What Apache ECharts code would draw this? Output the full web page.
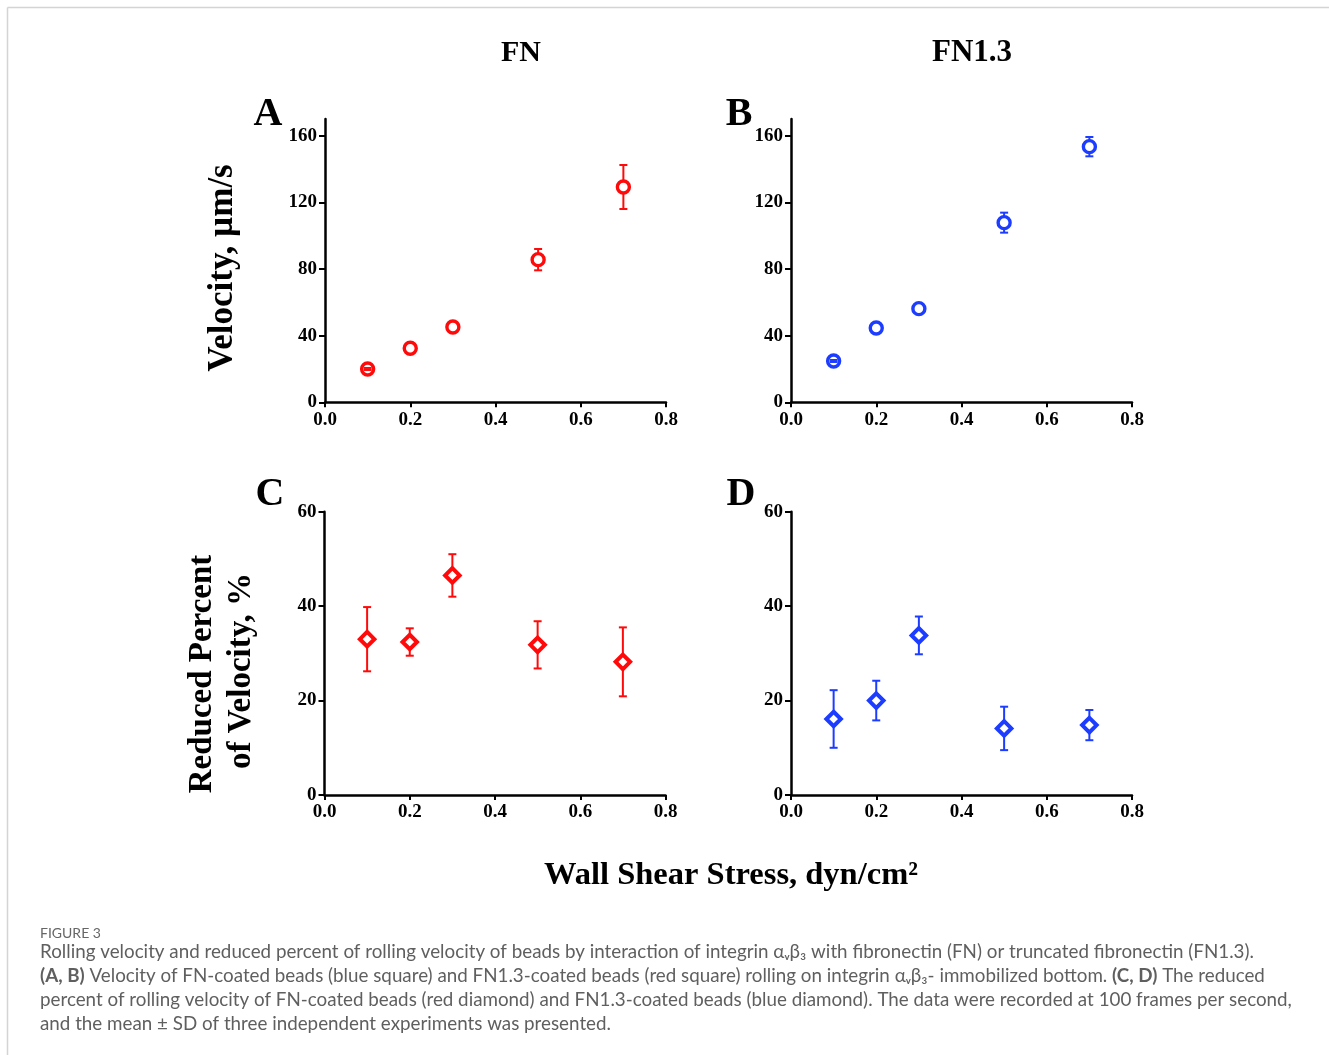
<!DOCTYPE html>
<html>
<head>
<meta charset="utf-8">
<title>Rolling velocity of FN and FN1.3 coated beads</title>
<script src="https://cdn.jsdelivr.net/npm/echarts@6/dist/echarts.min.js"></script>
<style>
  html, body { margin: 0; padding: 0; background: #ffffff; }
  #chart { width: 1329px; height: 1055px; }
</style>
</head>
<body>
<div id="chart"></div>
<script>
// Wall shear stress levels (dyn/cm^2)
const shearStress = [0.1, 0.2, 0.3, 0.5, 0.7];

// Rolling velocity, µm/s (mean and SD)
const velocityFN = [20.0, 32.4, 45.2, 85.6, 129.2];
const velocityFNsd = [0.6, 0, 0, 6.4, 13.2];
const velocityFN13 = [24.8, 44.6, 56.2, 107.8, 153.4];
const velocityFN13sd = [0.6, 0, 0, 6.0, 5.8];

// Reduced percent of rolling velocity, % (mean and SD)
const reducedFN = [33.0, 32.4, 46.5, 31.8, 28.2];
const reducedFNsd = [6.8, 2.9, 4.5, 5.0, 7.3];
const reducedFN13 = [16.1, 20.0, 33.8, 14.1, 14.8];
const reducedFN13sd = [6.1, 4.2, 4.0, 4.6, 3.2];

// Axis tick values
const xTicks = [0, 0.2, 0.4, 0.6, 0.8];
const velocityTicks = [0, 40, 80, 120, 160];
const reducedTicks = [0, 20, 40, 60];

const RED = '#ff0a0a';
const BLUE = '#1c3cff';
const SERIF = '"Liberation Serif", "Times New Roman", "DejaVu Serif", serif';
const SANS = 'Lato, "Open Sans", "Noto Sans", sans-serif';

const chart = echarts.init(document.getElementById('chart'), null, { renderer: 'canvas' });

// Plot areas: A (top-left), B (top-right), C (bottom-left), D (bottom-right)
const grids = [
  { left: 325, top: 119, width: 341, height: 283.3 },
  { left: 791, top: 119, width: 341, height: 283.3 },
  { left: 324.5, top: 511.7, width: 341, height: 283.3 },
  { left: 791, top: 511.7, width: 341, height: 283.3 }
];

function xAxisFor(i) {
  return {
    gridIndex: i, type: 'value', min: 0, max: 0.8, interval: 0.2,
    axisLine: { show: true, onZero: false, lineStyle: { color: '#000', width: 2.5 } },
    axisTick: { show: true, length: 5, lineStyle: { color: '#000', width: 2 }, customValues: xTicks },
    axisLabel: {
      color: '#000', fontFamily: SERIF, fontWeight: 'bold', fontSize: 19, margin: 8,
      customValues: xTicks, formatter: v => v.toFixed(1)
    },
    splitLine: { show: false }
  };
}

function yAxisFor(i, max, interval, ticks) {
  return {
    gridIndex: i, type: 'value', min: 0, max: max, interval: interval,
    axisLine: { show: true, onZero: false, lineStyle: { color: '#000', width: 2.5 } },
    axisTick: { show: true, length: 6, lineStyle: { color: '#000', width: 2 }, customValues: ticks },
    axisLabel: {
      color: '#000', fontFamily: SERIF, fontWeight: 'bold', fontSize: 19, margin: 8,
      customValues: ticks
    },
    splitLine: { show: false }
  };
}

function rows(means, sds) {
  return shearStress.map((x, k) => [x, means[k], sds[k]]);
}

// Vertical whiskers, drawn underneath the markers
function stemSeries(i, data, color) {
  return {
    type: 'custom', xAxisIndex: i, yAxisIndex: i, z: 1, silent: true,
    data: data,
    renderItem: function (params, api) {
      const sd = api.value(2);
      if (!sd) return null;
      const top = api.coord([api.value(0), api.value(1) + sd]);
      const bot = api.coord([api.value(0), api.value(1) - sd]);
      return {
        type: 'line',
        shape: { x1: top[0], y1: top[1], x2: bot[0], y2: bot[1] },
        style: { stroke: color, lineWidth: 2 }
      };
    }
  };
}

// Horizontal caps, drawn above the markers
function capSeries(i, data, color) {
  return {
    type: 'custom', xAxisIndex: i, yAxisIndex: i, z: 3, silent: true,
    data: data,
    renderItem: function (params, api) {
      const sd = api.value(2);
      if (!sd) return null;
      const top = api.coord([api.value(0), api.value(1) + sd]);
      const bot = api.coord([api.value(0), api.value(1) - sd]);
      const hw = 4;
      return {
        type: 'group',
        children: [
          { type: 'line', shape: { x1: top[0] - hw, y1: top[1], x2: top[0] + hw, y2: top[1] }, style: { stroke: color, lineWidth: 2 } },
          { type: 'line', shape: { x1: bot[0] - hw, y1: bot[1], x2: bot[0] + hw, y2: bot[1] }, style: { stroke: color, lineWidth: 2 } }
        ]
      };
    }
  };
}

function markerSeries(i, data, color, symbol) {
  const isDiamond = symbol === 'diamond';
  return {
    type: 'scatter', xAxisIndex: i, yAxisIndex: i, z: 2,
    data: data.map(d => [d[0], d[1]]),
    symbol: symbol,
    symbolSize: isDiamond ? 14.5 : 12,
    itemStyle: { color: '#ffffff', borderColor: color, borderWidth: isDiamond ? 4 : 3.4, opacity: 1 },
    emphasis: { disabled: true }
  };
}

const panels = [
  { data: rows(velocityFN, velocityFNsd), color: RED, symbol: 'circle' },
  { data: rows(velocityFN13, velocityFN13sd), color: BLUE, symbol: 'circle' },
  { data: rows(reducedFN, reducedFNsd), color: RED, symbol: 'diamond' },
  { data: rows(reducedFN13, reducedFN13sd), color: BLUE, symbol: 'diamond' }
];

const series = [];
panels.forEach((p, i) => {
  series.push(stemSeries(i, p.data, p.color));
  series.push(markerSeries(i, p.data, p.color, p.symbol));
  series.push(capSeries(i, p.data, p.color));
});

function label(text, x, y, size, extra) {
  return Object.assign({
    type: 'text', x: x, y: y, silent: true,
    style: {
      text: text, fill: '#000', align: 'center', verticalAlign: 'middle',
      font: 'bold ' + size + 'px ' + SERIF
    }
  }, extra || {});
}

const CAP_SIZE = 18.8;
const capStyle = { fontFamily: SANS, fontSize: CAP_SIZE, color: '#5f5f5f' };
const capBold = { fontFamily: SANS, fontSize: CAP_SIZE, color: '#4a4a4a', fontWeight: 'bold' };

function captionLine(text, y) {
  return {
    type: 'text', x: 40, y: y, silent: true,
    style: {
      text: text, align: 'left', verticalAlign: 'middle',
      fontFamily: SANS, fontSize: CAP_SIZE, fill: '#5f5f5f',
      rich: { n: capStyle, b: capBold }
    }
  };
}

const graphic = [
  // page frame
  { type: 'line', silent: true, shape: { x1: 7.5, y1: 7.5, x2: 1329, y2: 7.5 }, style: { stroke: '#d4d4d4', lineWidth: 1.5 } },
  { type: 'line', silent: true, shape: { x1: 7.5, y1: 7.5, x2: 7.5, y2: 1055 }, style: { stroke: '#d4d4d4', lineWidth: 1.5 } },

  // column headers
  label('FN', 521, 53, 30),
  label('FN1.3', 972, 53, 31),

  // panel letters
  label('A', 268, 115, 40),
  label('B', 739, 115, 40),
  label('C', 270, 495, 40),
  label('D', 741, 495, 40),

  // axis titles
  label('Velocity, µm/s', 223, 268, 35, { rotation: Math.PI / 2 }),
  label('Reduced Percent', 202, 674, 33, { rotation: Math.PI / 2 }),
  label('of Velocity, %', 241, 671, 33, { rotation: Math.PI / 2 }),
  label('Wall Shear Stress, dyn/cm²', 731, 876, 32.5),

  // figure caption
  {
    type: 'text', x: 40, y: 933, silent: true,
    style: { text: 'FIGURE 3', align: 'left', verticalAlign: 'middle', fontFamily: SANS, fontSize: 14, fill: '#666666' }
  },
  captionLine('{n|Rolling velocity and reduced percent of rolling velocity of beads by interaction of integrin αᵥβ₃ with fibronectin (FN) or truncated fibronectin (FN1.3).}', 952),
  captionLine('{b|(A, B)}{n| Velocity of FN-coated beads (blue square) and FN1.3-coated beads (red square) rolling on integrin αᵥβ₃- immobilized bottom. }{b|(C, D)}{n| The reduced}', 976),
  captionLine('{n|percent of rolling velocity of FN-coated beads (red diamond) and FN1.3-coated beads (blue diamond). The data were recorded at 100 frames per second,}', 1000),
  captionLine('{n|and the mean ± SD of three independent experiments was presented.}', 1024)
];

chart.setOption({
  animation: false,
  backgroundColor: '#ffffff',
  grid: grids,
  xAxis: [0, 1, 2, 3].map(xAxisFor),
  yAxis: [
    yAxisFor(0, 170, 40, velocityTicks),
    yAxisFor(1, 170, 40, velocityTicks),
    yAxisFor(2, 60, 20, reducedTicks),
    yAxisFor(3, 60, 20, reducedTicks)
  ],
  series: series,
  graphic: graphic
});
</script>
</body>
</html>
